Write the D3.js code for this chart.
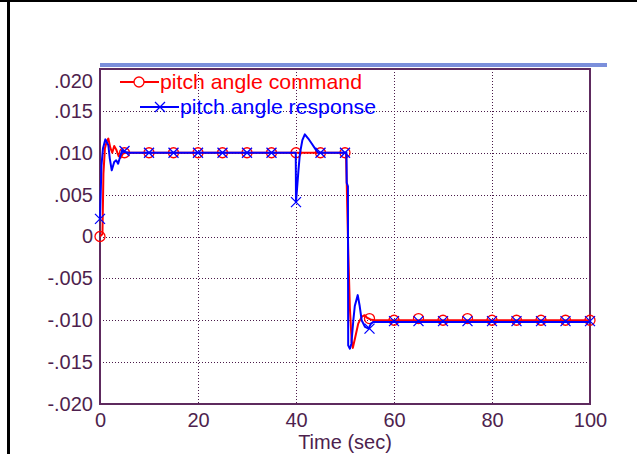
<!DOCTYPE html>
<html>
<head>
<meta charset="utf-8">
<script src="https://cdn.jsdelivr.net/npm/d3@7"></script>
<style>
  html, body { margin: 0; padding: 0; background: #ffffff; }
  svg { display: block; }
</style>
</head>
<body>
<svg id="chart" width="637" height="454"></svg>
<script>
// ---------- data ----------
const xTicks = [0, 20, 40, 60, 80, 100];
const xTickLabels = ["0", "20", "40", "60", "80", "100"];
const yTicks = [0.020, 0.015, 0.010, 0.005, 0, -0.005, -0.010, -0.015, -0.020];
const yTickLabels = [".020", ".015", ".010", ".005", "0", "-.005", "-.010", "-.015", "-.020"];
const xLabel = "Time (sec)";
const seriesNames = ["pitch angle command", "pitch angle response"];

// pitch angle command (red line)
const cmdT = [0, 0.5, 0.7, 1.0, 1.4, 1.7, 2.1, 2.5, 2.9, 3.3, 3.8, 4.2, 4.7, 5.2, 50.2, 50.35, 50.65, 51.0, 51.35, 51.6, 52.1, 52.7, 53.4, 54.0, 54.5, 55.2, 56, 100];
const cmdV = [0, 0.0003, 0.0075, 0.0105, 0.0114, 0.0117, 0.0106, 0.0100, 0.0108, 0.0104, 0.0096, 0.0094, 0.0099, 0.0100, 0.0100, 0.0064, -0.0015, -0.0086, -0.0124, -0.0133, -0.0120, -0.0104, -0.0096, -0.0094, -0.0097, -0.0099, -0.0100, -0.0100];

// pitch angle response (blue line)
const rspT = [0, 0.3, 0.6, 1.1, 1.7, 2.0, 2.4, 2.9, 3.3, 3.7, 4.1, 4.5, 5.0, 6, 39.95, 40.0, 40.5, 40.8, 41.3, 41.8, 42.5, 43.2, 43.9, 44.5, 50.3, 50.35, 50.6, 50.65, 51.0, 51.3, 51.7, 52.0, 52.6, 53.0, 53.4, 54.1, 54.8, 55.3, 55.8, 100];
const rspV = [0.0021, 0.0085, 0.0105, 0.0116, 0.0109, 0.0093, 0.0079, 0.0089, 0.0091, 0.0087, 0.0095, 0.0103, 0.0101, 0.0100, 0.0100, 0.0041, 0.0079, 0.0099, 0.0115, 0.0122, 0.0117, 0.0111, 0.0105, 0.0100, 0.0100, 0.0064, 0.0060, -0.0130, -0.0134, -0.0128, -0.0100, -0.0083, -0.0070, -0.0083, -0.0100, -0.0108, -0.0110, -0.0104, -0.0102, -0.0102];

// marker samples (every 5 s)
const markT = [0, 5, 10, 15, 20, 25, 30, 35, 40, 45, 50, 55, 60, 65, 70, 75, 80, 85, 90, 95, 100];
const cmdMarkV = [0, 0.0100, 0.0100, 0.0100, 0.0100, 0.0100, 0.0100, 0.0100, 0.0100, 0.0100, 0.0100, -0.0098, -0.0100, -0.0098, -0.0100, -0.0098, -0.0100, -0.0100, -0.0100, -0.0100, -0.0100];
const rspMarkV = [0.0021, 0.0102, 0.0100, 0.0100, 0.0100, 0.0100, 0.0100, 0.0100, 0.0041, 0.0100, 0.0100, -0.0110, -0.0101, -0.0101, -0.0101, -0.0101, -0.0101, -0.0101, -0.0101, -0.0101, -0.0101];

// ---------- layout ----------
const svg = d3.select("#chart");
const L = 100, R = 590, T = 69, B = 404;
const purple = "#5e2a5e";
const gridColor = "#4a1a4a";
const labelColor = "#4e1f4e";
const red = "#ff0000", blue = "#0000ff";
const font = "'Liberation Sans', Arial, sans-serif";

const x = d3.scaleLinear().domain([0, 100]).range([L, R]);
const y = d3.scaleLinear().domain([-0.02, 0.02]).range([B, T]);

// outer frame fragments
svg.append("rect").attr("x", 0).attr("y", 0).attr("width", 637).attr("height", 2).attr("fill", "#000");
svg.append("rect").attr("x", 7).attr("y", 0).attr("width", 3).attr("height", 454).attr("fill", "#000");

// blue bar on top
svg.append("rect").attr("x", L).attr("y", 63).attr("width", 607 - L).attr("height", 4).attr("fill", "#7b8fdb");

// grid
const grid = svg.append("g").attr("shape-rendering", "crispEdges");
grid.selectAll("line.h").data(yTicks.filter(v => Math.abs(v) < 0.02 - 1e-9)).join("line")
  .attr("x1", L).attr("x2", R).attr("y1", d => Math.round(y(d)) + 0.5).attr("y2", d => Math.round(y(d)) + 0.5)
  .attr("stroke", gridColor).attr("stroke-width", 1).attr("stroke-dasharray", "1,2");
grid.selectAll("line.v").data(xTicks.filter(v => v > 0 && v < 100)).join("line")
  .attr("x1", d => Math.round(x(d)) + 0.5).attr("x2", d => Math.round(x(d)) + 0.5).attr("y1", T).attr("y2", B)
  .attr("stroke", gridColor).attr("stroke-width", 1).attr("stroke-dasharray", "1,2");

// axes (labels)
const xAxis = svg.append("g").attr("transform", `translate(0,${B})`)
  .call(d3.axisBottom(x).tickValues(xTicks).tickFormat((d, i) => xTickLabels[i]).tickSize(0).tickPadding(9));
const yAxis = svg.append("g").attr("transform", `translate(${L},0)`)
  .call(d3.axisLeft(y).tickValues(yTicks).tickFormat((d, i) => yTickLabels[i]).tickSize(0).tickPadding(7));
[xAxis, yAxis].forEach(a => {
  a.select(".domain").remove();
  a.selectAll("text").attr("fill", labelColor).style("font-family", font).style("font-size", "20px");
});
// top label is nudged inside the frame like in the original
yAxis.selectAll(".tick").filter(d => d === 0.02).select("text").attr("y", 12);

// frame
svg.append("rect").attr("x", L).attr("y", T).attr("width", R - L).attr("height", B - T)
  .attr("fill", "none").attr("stroke", purple).attr("stroke-width", 2);

// x label
svg.append("text").attr("x", (L + R) / 2).attr("y", 449).attr("text-anchor", "middle")
  .attr("fill", labelColor).style("font-family", font).style("font-size", "20px").text(xLabel);

// series
const line = d3.line().x(d => x(d[0])).y(d => y(d[1]));
const cmdData = cmdT.map((t, i) => [t, cmdV[i]]);
const rspData = rspT.map((t, i) => [t, rspV[i]]);

svg.append("path").datum(cmdData).attr("d", line).attr("fill", "none")
  .attr("stroke", red).attr("stroke-width", 2).attr("stroke-linejoin", "round");
svg.append("g").selectAll("circle").data(markT.map((t, i) => [t, cmdMarkV[i]])).join("circle")
  .attr("cx", d => x(d[0])).attr("cy", d => y(d[1])).attr("r", 5)
  .attr("fill", "none").attr("stroke", red).attr("stroke-width", 1.3);

svg.append("path").datum(rspData).attr("d", line).attr("fill", "none")
  .attr("stroke", blue).attr("stroke-width", 2).attr("stroke-linejoin", "round");
const xm = 5;
const crossPath = (cx, cy) => `M${cx - xm},${cy - xm}L${cx + xm},${cy + xm}M${cx - xm},${cy + xm}L${cx + xm},${cy - xm}`;
svg.append("g").selectAll("path").data(markT.map((t, i) => [t, rspMarkV[i]])).join("path")
  .attr("d", d => crossPath(x(d[0]), y(d[1])))
  .attr("fill", "none").attr("stroke", blue).attr("stroke-width", 1.3);

// legend
const lg = svg.append("g");
lg.append("line").attr("x1", 120).attr("x2", 159).attr("y1", 82).attr("y2", 82).attr("stroke", red).attr("stroke-width", 2);
lg.append("circle").attr("cx", 139).attr("cy", 82).attr("r", 5).attr("fill", "#fff").attr("stroke", red).attr("stroke-width", 1.3);
lg.append("text").attr("x", 160).attr("y", 89).attr("fill", red)
  .attr("textLength", 202).attr("lengthAdjust", "spacingAndGlyphs")
  .style("font-family", font).style("font-size", "21px").text(seriesNames[0]);

lg.append("line").attr("x1", 140).attr("x2", 179).attr("y1", 107).attr("y2", 107).attr("stroke", blue).attr("stroke-width", 2);
lg.append("path").attr("d", crossPath(160, 107)).attr("stroke", blue).attr("stroke-width", 1.3);
lg.append("text").attr("x", 180).attr("y", 114).attr("fill", blue)
  .attr("textLength", 196).attr("lengthAdjust", "spacingAndGlyphs")
  .style("font-family", font).style("font-size", "21px").text(seriesNames[1]);
</script>
</body>
</html>
